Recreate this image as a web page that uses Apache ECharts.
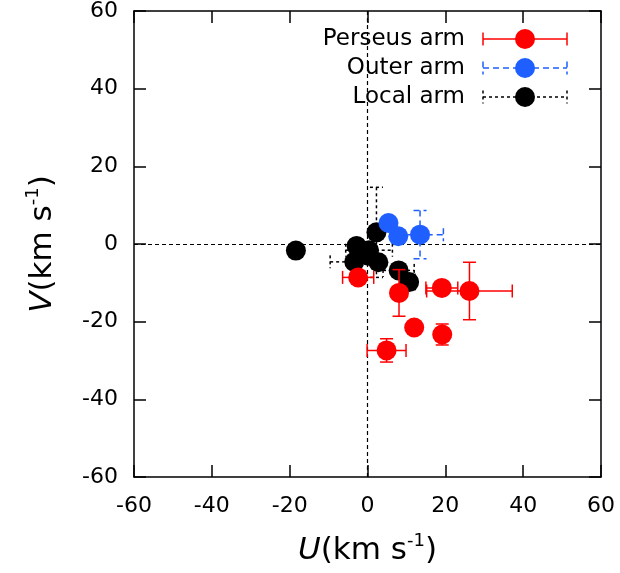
<!DOCTYPE html>
<html>
<head>
<meta charset="utf-8">
<script src="https://cdn.jsdelivr.net/npm/echarts@6/dist/echarts.min.js"></script>
<style>html,body{margin:0;padding:0;background:#fff}#c{width:620px;height:573px}</style>
</head>
<body>
<div id="c"></div>
<script>
// Data: [U, V, U error, V error] in km/s
const perseusArm = [
  [4.9, -27.4, 5.0, 3.0],
  [12.0, -21.5, 1.5, 1.5],
  [19.2, -23.3, 1.5, 2.7],
  [8.1, -12.6, 1.5, 6.0],
  [19.1, -11.3, 4.1, 1.5],
  [26.2, -12.1, 11.0, 7.4],
  [-2.4, -8.6, 4.0, 1.5]
];
const outerArm = [
  [5.4, 5.4, 1.5, 1.5],
  [7.9, 2.0, 1.5, 1.5],
  [13.5, 2.4, 6.0, 6.2]
];
const localArm = [
  [-18.4, -1.7, 0.8, 0.8],
  [2.3, 3.0, 1.2, 11.6],
  [-2.8, -0.5, 1.2, 1.2],
  [0.4, -1.6, 6.0, 1.2],
  [-3.4, -4.6, 6.2, 1.2],
  [2.8, -4.7, 1.2, 1.2],
  [0.2, -3.0, 1.2, 1.2],
  [8.0, -6.8, 4.0, 1.2],
  [10.7, -9.8, 1.2, 2.0]
];
const armNames = ['Perseus arm', 'Outer arm', 'Local arm'];
const tickValues = [-60, -40, -20, 0, 20, 40, 60];

const RED = '#ff0000', BLUE = '#1f5fff', BLACK = '#000000';
const FONT = 'DejaVu Sans';
const CAP = 6.5;

function errRender(color, dash) {
  return function (params, api) {
    const x = api.value(0), y = api.value(1), ex = api.value(2), ey = api.value(3);
    const l = api.coord([x - ex, y]), r = api.coord([x + ex, y]);
    const t = api.coord([x, y + ey]), b = api.coord([x, y - ey]);
    const st = {stroke: color, lineWidth: 1.5, lineDash: dash, fill: null};
    const seg = (x1, y1, x2, y2) => ({type: 'line', shape: {x1, y1, x2, y2}, style: st});
    return {type: 'group', children: [
      seg(l[0], l[1], r[0], r[1]),
      seg(t[0], t[1], b[0], b[1]),
      seg(l[0], l[1] - CAP, l[0], l[1] + CAP),
      seg(r[0], r[1] - CAP, r[0], r[1] + CAP),
      seg(t[0] - CAP, t[1], t[0] + CAP, t[1]),
      seg(b[0] - CAP, b[1], b[0] + CAP, b[1])
    ]};
  };
}

function armSeries(name, data, color, dash, z) {
  return [
    {type: 'custom', name: name, data: data, renderItem: errRender(color, dash),
     encode: {x: 0, y: 1}, z: z, silent: true, clip: true},
    {type: 'scatter', name: name, data: data.map(d => [d[0], d[1]]), symbol: 'circle',
     symbolSize: 20, itemStyle: {color: color, opacity: 1}, z: z + 1, silent: true}
  ];
}

const axisCommon = {
  min: -60, max: 60, interval: 20,
  axisLine: {show: true, onZero: false, lineStyle: {color: '#000', width: 1.5}},
  axisTick: {show: true, inside: true, length: 12, lineStyle: {color: '#000', width: 1.5}},
  splitLine: {show: false}
};
const labelStyle = {color: '#000', fontFamily: FONT, fontSize: 22};
const titleRich = {
  i: {fontFamily: FONT, fontSize: 31, fontStyle: 'italic', lineHeight: 38, color: '#000'},
  n: {fontFamily: FONT, fontSize: 31, lineHeight: 38, color: '#000'},
  s: {fontFamily: FONT, fontSize: 18, lineHeight: 20, verticalAlign: 'top', color: '#000'}
};

const legendY = [39, 68, 97];
const legendColors = [RED, BLUE, BLACK];
const legendDash = [null, [6, 4], [3, 3]];
const legendGraphics = [];
armNames.forEach((nm, i) => {
  const y = legendY[i];
  const st = {stroke: legendColors[i], lineWidth: 1.5, lineDash: legendDash[i]};
  legendGraphics.push(
    {type: 'text', x: 465, y: y, style: {text: nm, fontFamily: FONT, fontSize: 23, fill: '#000', align: 'right', verticalAlign: 'middle'}, z: 20},
    {type: 'line', shape: {x1: 483, y1: y, x2: 567, y2: y}, style: st, z: 20},
    {type: 'line', shape: {x1: 483, y1: y - 6.5, x2: 483, y2: y + 6.5}, style: st, z: 20},
    {type: 'line', shape: {x1: 567, y1: y - 6.5, x2: 567, y2: y + 6.5}, style: st, z: 20},
    {type: 'circle', shape: {cx: 525, cy: y, r: 10}, style: {fill: legendColors[i]}, z: 21}
  );
});

const chart = echarts.init(document.getElementById('c'), null, {renderer: 'canvas'});
chart.setOption({
  animation: false,
  backgroundColor: '#fff',
  grid: {left: 134, right: 19, top: 11, bottom: 96, containLabel: false},
  xAxis: [
    Object.assign({}, axisCommon, {type: 'value', position: 'bottom',
      axisLabel: Object.assign({}, labelStyle, {margin: 18, customValues: tickValues}),
      name: '{i|U}{n|(km s}{s|-1}{n|)}', nameLocation: 'middle', nameGap: 55,
      nameTextStyle: {rich: titleRich}}),
    Object.assign({}, axisCommon, {type: 'value', position: 'top', axisLabel: {show: false}})
  ],
  yAxis: [
    Object.assign({}, axisCommon, {type: 'value', position: 'left',
      axisLabel: Object.assign({}, labelStyle, {margin: 16}),
      name: '{i|V}{n|(km s}{s|-1}{n|)}', nameLocation: 'middle', nameGap: 72, nameRotate: 90,
      nameTextStyle: {rich: titleRich}}),
    Object.assign({}, axisCommon, {type: 'value', position: 'right', axisLabel: {show: false}})
  ],
  series: [
    {type: 'scatter', data: [], z: 1, silent: true,
     markLine: {silent: true, symbol: 'none', label: {show: false},
       lineStyle: {color: '#000', width: 1.2, type: [4, 3]},
       data: [{xAxis: 0}, {yAxis: 0}]}},
    ...armSeries(armNames[2], localArm, BLACK, [3, 3], 2),
    ...armSeries(armNames[1], outerArm, BLUE, [6, 4], 4),
    ...armSeries(armNames[0], perseusArm, RED, null, 6)
  ],
  graphic: legendGraphics
});
</script>
</body>
</html>
